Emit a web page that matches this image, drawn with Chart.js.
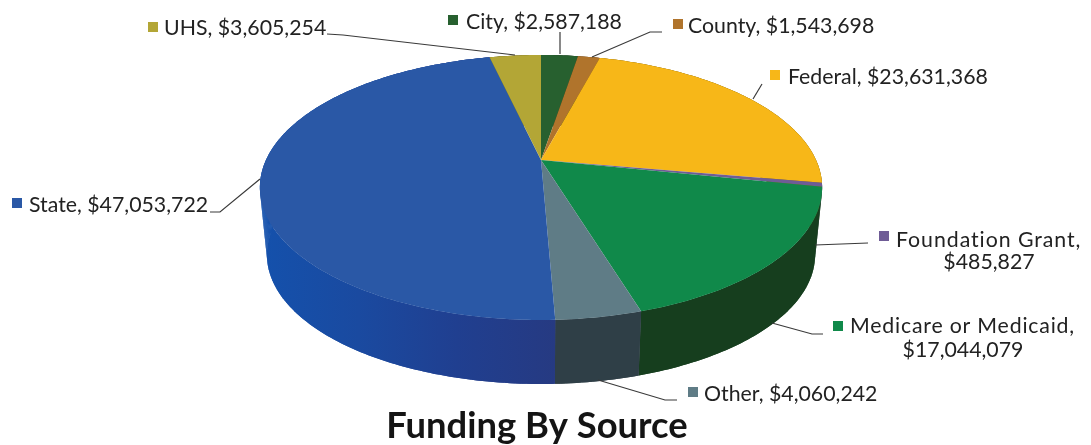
<!DOCTYPE html>
<html>
<head>
<meta charset="utf-8">
<title>Funding By Source</title>
<script src="https://cdn.jsdelivr.net/npm/chart.js@4/dist/chart.umd.min.js"></script>
<style>
	html, body { margin: 0; padding: 0; background: #fff; }
	canvas { display: block; filter: blur(0.4px); }
</style>
</head>
<body>
<canvas id="myChart" width="1091" height="445"></canvas>
<script>
const categories = ['City', 'County', 'Federal', 'Foundation Grant', 'Medicare or Medicaid', 'Other', 'State', 'UHS'];
const amounts = [2587188, 1543698, 23631368, 485827, 17044079, 4060242, 47053722, 3605254];
const topColors = ['#27602F', '#B0742C', '#F7B718', '#6F5C96', '#10894A', '#5F7C86', '#2A58A6', '#B3A636'];

// side wall colours, left to right along each slice
const wallColors = [
	['#173A1C'],
	['#6A4519'],
	['#94700E'],
	['#43375A'],
	['#163E1E'],
	['#2F3F47'],
	['#1451AC', '#1A4AA0', '#203F90', '#263A82'],
	['#6B6420'],
];

// where the pie sits on the page, the top disc is a circle seen in perspective
const cx = 541;
const apexY = 160;
const spreadX = 275;
const spreadY = 126.8;
const tilt = -0.2075;
const wallDrop = 68;
const wallShrink = 0.975;

// label placement: swatch x/y, text x, first baseline, second line centre and baseline, leader line
const labelSpots = [
	{ sw: [448, 15], x: 466, y: 29, line: [[560, 32], [560, 54]] },
	{ sw: [673, 19], x: 688, y: 33, line: [[662, 32], [650, 32], [592, 57]] },
	{ sw: [770, 70], x: 788, y: 84, line: [[762, 84], [753, 99]] },
	{ sw: [879, 231], x: 896, y: 247, x2: 989, y2: 269, spacing: '0.95px', line: [[868, 243], [815, 245]] },
	{ sw: [833, 321], x: 850, y: 333, x2: 963, y2: 357, spacing: '0.8px', line: [[823, 334], [812, 334], [772, 323]] },
	{ sw: [688, 387], x: 704, y: 401, line: [[677, 400], [665, 400], [598, 380]] },
	{ sw: [12, 198], x: 29, y: 212, line: [[210, 212], [220, 212], [260, 179]] },
	{ sw: [148, 22], x: 164, y: 35, line: [[327, 34], [343, 35], [515, 55]] },
];

function ringPoint(angle, drop, shrink) {
	const u = Math.sin(angle);
	const v = -Math.cos(angle);
	const d = 1 + tilt * v;
	return [cx + (spreadX * shrink * u) / d, apexY + drop + (spreadY * shrink * v) / d];
}

function arcPoints(start, end, drop, shrink) {
	const pts = [];
	const steps = Math.max(4, Math.ceil((end - start) * 60));
	for (let i = 0; i <= steps; i++) {
		pts.push(ringPoint(start + ((end - start) * i) / steps, drop, shrink));
	}
	return pts;
}

function tracePath(ctx, pts) {
	ctx.beginPath();
	pts.forEach((p, i) => (i === 0 ? ctx.moveTo(p[0], p[1]) : ctx.lineTo(p[0], p[1])));
	ctx.closePath();
}

const pie3d = {
	id: 'pie3d',
	beforeDatasetsDraw(chart) {
		const ctx = chart.ctx;
		const arcs = chart.getDatasetMeta(0).data;
		ctx.save();

		// walls first, the top disc covers the back half of them
		arcs.forEach((arc, i) => {
			const start = arc.startAngle + Math.PI / 2;
			const end = arc.endAngle + Math.PI / 2;
			const upper = arcPoints(start, end, 0, 1);
			const lower = arcPoints(start, end, wallDrop, wallShrink);
			const xs = upper.concat(lower).map((p) => p[0]);
			const left = Math.min(...xs);
			const right = Math.max(...xs);
			const grad = ctx.createLinearGradient(left, 0, right, 0);
			const stops = wallColors[i];
			stops.forEach((c, n) => grad.addColorStop(stops.length > 1 ? n / (stops.length - 1) : 0, c));
			ctx.fillStyle = grad;
			// one quad per step so the silhouette joins the two rings
			for (let n = 0; n < upper.length - 1; n++) {
				tracePath(ctx, [upper[n], upper[n + 1], lower[n + 1], lower[n]]);
				ctx.fill();
			}
			tracePath(ctx, upper.concat(lower.slice().reverse()));
			ctx.fill();
		});

		arcs.forEach((arc, i) => {
			const start = arc.startAngle + Math.PI / 2;
			const end = arc.endAngle + Math.PI / 2;
			const pts = arcPoints(start, end, 0, 1);
			pts.unshift([cx, apexY]);
			ctx.fillStyle = topColors[i];
			tracePath(ctx, pts);
			ctx.fill();
		});

		ctx.restore();
		return false;
	},
	afterDraw(chart) {
		const ctx = chart.ctx;
		ctx.save();
		ctx.font = '21.3px Lato';
		ctx.textBaseline = 'alphabetic';
		categories.forEach((name, i) => {
			const spot = labelSpots[i];
			const money = '$' + amounts[i].toLocaleString('en-US');

			ctx.strokeStyle = '#3a3a3a';
			ctx.lineWidth = 1.2;
			ctx.beginPath();
			spot.line.forEach((p, n) => (n === 0 ? ctx.moveTo(p[0], p[1]) : ctx.lineTo(p[0], p[1])));
			ctx.stroke();

			ctx.fillStyle = topColors[i];
			ctx.fillRect(spot.sw[0], spot.sw[1], 10, 10);

			ctx.fillStyle = '#222';
			ctx.textAlign = 'left';
			if (spot.x2) {
				ctx.letterSpacing = spot.spacing;
				ctx.fillText(name + ',', spot.x, spot.y);
				ctx.letterSpacing = '0px';
				ctx.textAlign = 'center';
				ctx.fillText(money, spot.x2, spot.y2);
			} else {
				ctx.fillText(name + ', ' + money, spot.x, spot.y);
			}
		});
		ctx.restore();
	},
};

const myChart = new Chart(document.getElementById('myChart'), {
	type: 'pie',
	data: {
		labels: categories,
		datasets: [{ data: amounts, backgroundColor: topColors, borderWidth: 0 }],
	},
	options: {
		responsive: false,
		animation: false,
		devicePixelRatio: 1,
		layout: { padding: { right: 17 } },
		plugins: {
			legend: { display: false },
			tooltip: { enabled: false },
			title: {
				display: true,
				text: 'Funding By Source',
				position: 'bottom',
				color: '#141414',
				font: { family: 'Lato', size: 36.4, weight: 'bold', lineHeight: 1.05 },
				padding: { top: 0, bottom: 0 },
			},
		},
	},
	plugins: [pie3d],
});
</script>
</body>
</html>
